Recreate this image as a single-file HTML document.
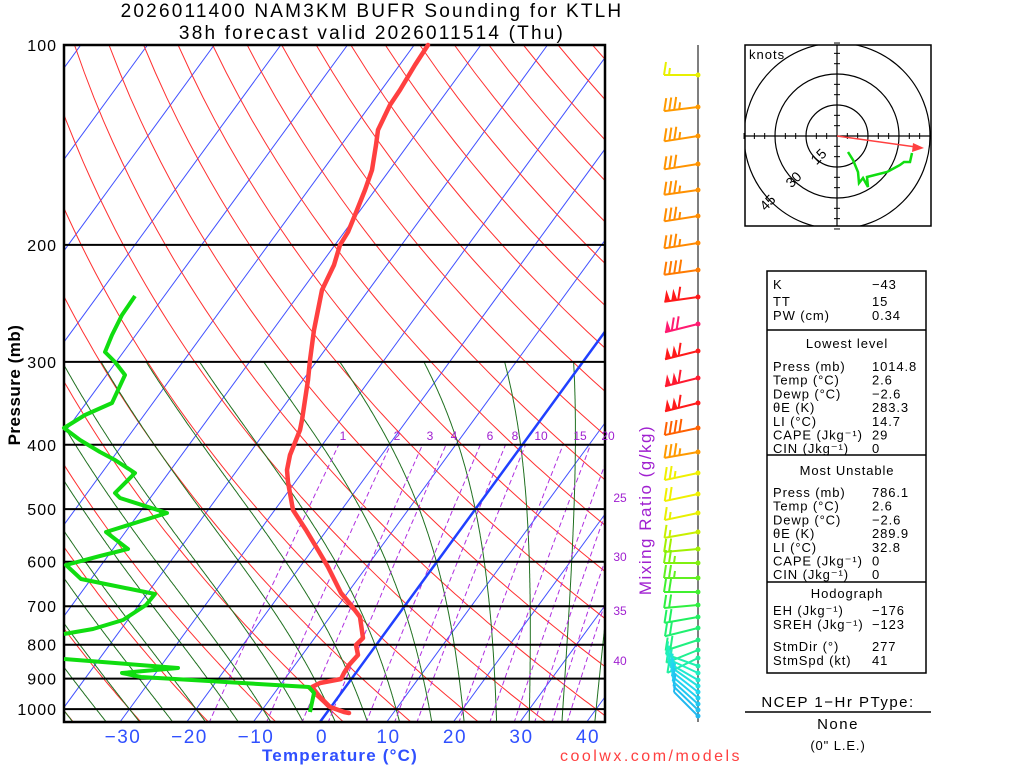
<!DOCTYPE html>
<html><head><meta charset="utf-8"><style>
body{margin:0;background:#fff;}
svg{display:block;font-family:"Liberation Sans",sans-serif;}
</style></head><body>
<svg id="s" width="1024" height="768" xmlns="http://www.w3.org/2000/svg">
<defs><clipPath id="cp"><rect x="64" y="45" width="541" height="677"/></clipPath>
<clipPath id="hc"><rect x="745" y="45" width="186" height="181"/></clipPath></defs>
<g id="grid" clip-path="url(#cp)"></g>
<g id="frame"></g>
<text x="372" y="17" font-size="19" text-anchor="middle" letter-spacing="2.2">2026011400 NAM3KM BUFR Sounding for KTLH</text>
<text x="372" y="39" font-size="19" text-anchor="middle" letter-spacing="2.2">38h forecast valid 2026011514 (Thu)</text>
<text transform="translate(20,385) rotate(-90)" font-size="17" font-weight="bold" text-anchor="middle" letter-spacing="0.5">Pressure (mb)</text>
<text transform="translate(651,510) rotate(-90)" font-size="17" fill="#a020d0" text-anchor="middle" letter-spacing="1.5">Mixing Ratio (g/kg)</text>
<text x="340" y="761" font-size="17" font-weight="bold" fill="#3050ff" text-anchor="middle" letter-spacing="1.2">Temperature (°C)</text>
<text x="651" y="761" font-size="16" fill="#ff4040" text-anchor="middle" letter-spacing="2.5">coolwx.com/models</text>
<g id="barbs"></g>
<g id="hodo"></g>
<g id="tbl" font-size="13" letter-spacing="0.9"></g>
</svg>
<script>
const NS="http://www.w3.org/2000/svg";
function el(par,tag,attrs,txt){const e=document.createElementNS(NS,tag);for(const k in attrs)e.setAttribute(k,attrs[k]);if(txt!==undefined)e.textContent=txt;par.appendChild(e);return e;}
const Y=p=>45+288.4*Math.log(p/100);
const X=(T,y)=>320+6.667*T+0.73*(722-y);
const g=document.getElementById('grid'),fr=document.getElementById('frame');
function poly(par,pts,st,w,extra){const a={points:pts.map(q=>q[0].toFixed(1)+','+q[1].toFixed(1)).join(' '),fill:'none',stroke:st,'stroke-width':w};Object.assign(a,extra||{});return el(par,'polyline',a);}
for(let T=-150;T<=50;T+=10){if(T===0)continue;poly(g,[[X(T,722),722],[X(T,45),45]],'#4050ff',1);}
for(let th=-60;th<=220;th+=10){const pts=[];for(let p=1050;p>=100;p-=10){const T=(th+273.15)*Math.pow(p/1000,0.2857)-273.15;const y=Y(p);pts.push([X(T,y),y]);}poly(g,pts,'#ff3030',1);}
function es(T){return 6.112*Math.exp(17.67*T/(T+243.5));}
function dTdp(T,p){const Tk=T+273.15,e=es(T),rs=0.622*e/(p-e);return (287*Tk+2.5e6*rs)/(p*(1004+2.5e6*2.5e6*rs*0.622/(287*Tk*Tk)));}
for(let T0=-40;T0<=40;T0+=5){let pts=[],T=T0;for(let p=1000;p>=300;p-=2){const y=Y(p);pts.unshift([X(T,y),y]);T-=dTdp(T,p)*2;}
 T=T0;for(let p=1000;p<=1050;p+=2){const y=Y(p);pts.push([X(T,y),y]);T+=dTdp(T,p)*2;}
 poly(g,pts,'#207020',1);}
const ws=[1,2,3,4,6,8,10,15,20,25,30,35,40];
for(const w of ws){const pts=[];for(let p=1050;p>=400;p-=10){const e=w*p/(622+w),a=Math.log(e/6.112),T=243.5*a/(17.67-a),y=Y(p);pts.push([X(T,y),y]);}poly(g,pts,'#b030e0',1,{'stroke-dasharray':'5,3'});}
poly(g,[[X(0,722),722],[X(0,45),45]],'#2040ff',2.5);
for(let p=100;p<=1000;p+=100){const y=Y(p);el(fr,'line',{x1:64,x2:605,y1:y,y2:y,stroke:'#000','stroke-width':2});el(fr,'text',{x:57,y:y+6,'font-size':16,'text-anchor':'end','letter-spacing':1},p);}
el(fr,'rect',{x:64,y:45,width:541,height:677,fill:'none',stroke:'#000','stroke-width':2.5});
[[1,343],[2,397],[3,430],[4,454],[6,490],[8,515],[10,541],[15,580],[20,608]].forEach(a=>el(fr,'text',{x:a[1],y:440,'font-size':12,fill:'#a020d0','text-anchor':'middle'},a[0]));
[[25,502],[30,561],[35,615],[40,665]].forEach(a=>el(fr,'text',{x:620,y:a[1],'font-size':12,fill:'#a020d0','text-anchor':'middle'},a[0]));
[-30,-20,-10,0,10,20,30,40].forEach(t=>el(fr,'text',{x:t<0?125+ (t+30)*6.65 -2:322+t*6.65,y:743,'font-size':19,fill:'#3050ff','text-anchor':'middle','letter-spacing':1.5},t<0?'\u2212'+(-t):t));
const tp=[[428,45],[415,65],[400,90],[390,105],[378,130],[376,145],[372,170],[365,190],[355,215],[348,232],[340,245],[334,265],[322,290],[320,300],[314,330],[310,360],[308,380],[305,400],[302,420],[300,430],[296,440],[290,455],[287,470],[288,482],[293,510],[306,530],[318,550],[328,567],[341,593],[351,605],[360,617],[363,638],[356,645],[358,655],[349,665],[344,673],[341,679],[320,683],[312,687],[320,697],[330,707],[344,712],[349,713]];
poly(fr,tp,'#ff4040',4.5,{'stroke-linejoin':'round','stroke-linecap':'round'});
const dp=[[135,296],[122,315],[112,335],[105,352],[115,362],[125,375],[112,403],[85,415],[64,428],[80,440],[100,452],[115,460],[135,473],[115,493],[120,498],[167,513],[106,532],[128,549],[100,556],[66,565],[81,579],[155,594],[146,605],[123,620],[93,629],[64,634]];
poly(fr,dp,'#10dd10',4,{'stroke-linejoin':'round'});
poly(fr,[[64,659],[178,668],[122,673],[141,677],[309,687],[314,693],[310,712]],'#10dd10',4,{'stroke-linejoin':'round'});
const b=document.getElementById('barbs');
el(b,'line',{x1:698,y1:45,x2:698,y2:722,stroke:'#555','stroke-width':1.5});
function barb2(y,c,ang,fl,full,half){const r=ang*Math.PI/180,L=34,dx=-Math.cos(r),dy=Math.sin(r);
 const ex=698+dx*L,ey=y+dy*L;el(b,'line',{x1:698,y1:y,x2:ex,y2:ey,stroke:c,'stroke-width':2});el(b,'circle',{cx:698,cy:y,r:2.5,fill:c});
 let pos=0,nx=-dx,ny=-dy;
 for(let i=0;i<fl;i++){const x1=ex+nx*pos,y1=ey+ny*pos,x2=ex+nx*(pos+6),y2=ey+ny*(pos+6);el(b,'polygon',{points:`${x1},${y1} ${x2},${y2} ${x1+2},${y1-12}`,fill:c});pos+=7;}
 for(let i=0;i<full;i++){const x1=ex+nx*pos,y1=ey+ny*pos;el(b,'line',{x1:x1,y1:y1,x2:x1+2,y2:y1-13,stroke:c,'stroke-width':2});pos+=5;}
 for(let i=0;i<half;i++){const x1=ex+nx*pos,y1=ey+ny*pos;el(b,'line',{x1:x1,y1:y1,x2:x1+1,y2:y1-7,stroke:c,'stroke-width':2});pos+=5;}}
const B=[[75,'#e8f000',0,0,1,1],[107,'#ff9a00',7,0,3,1],[136,'#ff9600',9,0,3,1],[164,'#ff9300',9,0,3,0],[190,'#ff9000',8,0,3,1],[216,'#ff8c00',9,0,3,1],[243,'#ff8800',9,0,3,1],[270,'#ff7a00',8,0,4,0],[297,'#ff1a1a',8,2,1,0],[324,'#ff1a70',14,1,2,0],[351,'#ff1a1a',14,2,1,0],[378,'#ff1a30',14,2,1,0],[403,'#ff1a1a',14,2,1,0],[428,'#ff6000',12,0,4,0],[452,'#ff9a00',10,0,3,1],[473,'#f0f000',12,0,2,1],[494,'#f0f000',12,0,2,0],[513,'#e8f000',12,0,1,1],[532,'#c8f000',10,0,1,1],[549,'#a0f000',5,0,2,0],[563,'#80f010',0,0,2,1],[578,'#60f020',0,0,2,1],[592,'#40f030',0,0,2,0],[605,'#30f040',5,0,2,0],[617,'#20f060',10,0,2,0],[628,'#20f070',14,0,2,0],[640,'#20f080',18,0,2,0],[650,'#20f090',22,0,1,1],[658,'#20f0a0',26,0,1,1],[666,'#20f0b0',-20,0,1,1],[673,'#20f0c0',-25,0,1,1],[680,'#20e8d0',-30,0,1,1],[686,'#20e0e0',-35,0,1,1],[692,'#20d8f0',-38,0,1,0],[698,'#20d0f0',-40,0,1,0],[704,'#20c8f0',-42,0,1,0],[710,'#20c0f0',-44,0,1,0],[716,'#20b8f0',-45,0,0,1]];
B.forEach(a=>barb2(...a));
const h=document.getElementById('hodo');const cx=837,cy=136;
el(h,'rect',{x:745,y:45,width:186,height:181,fill:'none',stroke:'#000','stroke-width':1.5});
const hc=el(h,'g',{'clip-path':'url(#hc)'});
[31,62,93].forEach(r=>el(hc,'circle',{cx:cx,cy:cy,r:r,fill:'none',stroke:'#000','stroke-width':1.2}));
el(h,'line',{x1:745,x2:931,y1:cy,y2:cy,stroke:'#000','stroke-width':1.2});
el(h,'line',{x1:cx,x2:cx,y1:45,y2:226,stroke:'#000','stroke-width':1.2});
for(let k=-9;k<=9;k++){if(!k)continue;const d=k*10.33;el(h,'line',{x1:cx+d,x2:cx+d,y1:cy-3,y2:cy+3,stroke:'#000'});el(h,'line',{y1:cy+d,y2:cy+d,x1:cx-3,x2:cx+3,stroke:'#000'});}
el(h,'text',{x:749,y:59,'font-size':13,'letter-spacing':1},'knots');
[['15',822,160],['30',797,183],['45',771,206]].forEach(a=>el(h,'text',{transform:`translate(${a[1]},${a[2]}) rotate(-45)`,'font-size':14,'text-anchor':'middle'},a[0]));
el(h,'line',{x1:cx,y1:cy,x2:916,y2:147,stroke:'#ff4040','stroke-width':1.5});
el(h,'polygon',{points:'924,148 913,143 912,152',fill:'#ff4040'});
poly(h,[[848,152],[853,160],[858,172],[859,183],[863,178],[868,187],[867,177],[887,172],[900,165],[904,162],[910,162],[912,153]],'#10dd10',2.5);
const t=document.getElementById('tbl');
el(t,'rect',{x:767,y:271,width:159,height:402,fill:'none',stroke:'#000','stroke-width':1.5});
[330,455,582].forEach(y=>el(t,'line',{x1:767,x2:926,y1:y,y2:y,stroke:'#000','stroke-width':1.5}));
const L=(s,y)=>el(t,'text',{x:773,y:y},s),V=(s,y)=>el(t,'text',{x:872,y:y},s),C=(s,y)=>el(t,'text',{x:847,y:y,'text-anchor':'middle'},s);
L('K',289);V('\u221243',289);L('TT',306);V('15',306);L('PW (cm)',320);V('0.34',320);
C('Lowest level',348);
const r1=[['Press (mb)','1014.8'],['Temp (°C)','2.6'],['Dewp (°C)','\u22122.6'],['θE (K)','283.3'],['LI (°C)','14.7'],['CAPE (Jkg⁻¹)','29'],['CIN (Jkg⁻¹)','0']];
r1.forEach((r,i)=>{L(r[0],371+i*13.7);V(r[1],371+i*13.7);});
C('Most Unstable',475);
const r2=[['Press (mb)','786.1'],['Temp (°C)','2.6'],['Dewp (°C)','\u22122.6'],['θE (K)','289.9'],['LI (°C)','32.8'],['CAPE (Jkg⁻¹)','0'],['CIN (Jkg⁻¹)','0']];
r2.forEach((r,i)=>{L(r[0],497+i*13.7);V(r[1],497+i*13.7);});
C('Hodograph',598);L('EH (Jkg⁻¹)',615);V('\u2212176',615);L('SREH (Jkg⁻¹)',629);V('\u2212123',629);
L('StmDir (°)',651);V('277',651);L('StmSpd (kt)',665);V('41',665);
el(t,'text',{x:838,y:707,'font-size':15,'text-anchor':'middle','letter-spacing':1.5},'NCEP 1\u2212Hr PType:');
el(t,'line',{x1:745,x2:931,y1:712,y2:712,stroke:'#000','stroke-width':1.5});
el(t,'text',{x:838,y:729,'font-size':15,'text-anchor':'middle','letter-spacing':1.5},'None');
el(t,'text',{x:838,y:750,'font-size':13,'text-anchor':'middle'},'(0" L.E.)');
</script>
</body></html>
